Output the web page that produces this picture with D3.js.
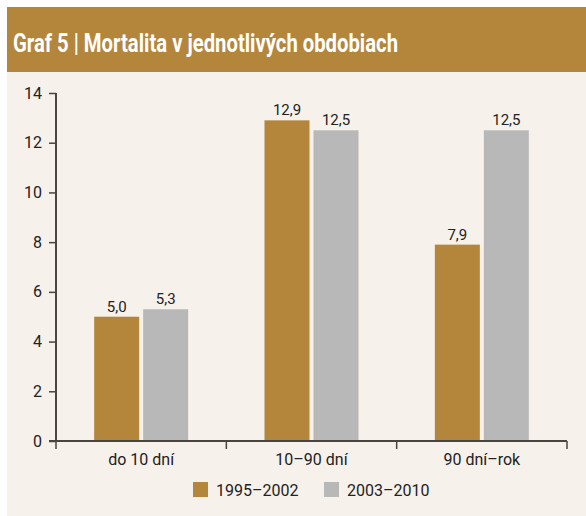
<!DOCTYPE html>
<html><head><meta charset="utf-8">
<script src="https://cdn.jsdelivr.net/npm/d3@7"></script>
<style>html,body{margin:0;padding:0;background:#fff;}svg{display:block;font-family:Roboto,"Noto Sans",sans-serif;}</style>
</head><body>
<script>
const title = "Graf 5 | Mortalita v jednotlivých obdobiach";
const categories = ["do 10 dní", "10–90 dní", "90 dní–rok"];
const seriesNames = ["1995–2002", "2003–2010"];
const series1 = [5.0, 12.9, 7.9];
const series2 = [5.3, 12.5, 12.5];
const yTicks = [0, 2, 4, 6, 8, 10, 12, 14];
const colors = ["#b3863c", "#b8b8b8"];

const W = 586, H = 516;
const svg = d3.select("body").append("svg").attr("width", W).attr("height", H);
svg.append("rect").attr("x", 7).attr("y", 72).attr("width", W - 7).attr("height", H - 72).attr("fill", "#f7f1eb");
svg.append("rect").attr("x", 7).attr("y", 7).attr("width", W - 7).attr("height", 65).attr("fill", "#b3863c");
svg.append("text").attr("x", 13).attr("y", 52).attr("fill", "#fff").attr("font-size", 25).attr("font-weight", 700)
  .attr("textLength", 385).attr("lengthAdjust", "spacingAndGlyphs").text(title);

const x0 = d3.scaleBand().domain(categories).range([56, 567]).paddingInner(0).paddingOuter(0);
const y = d3.scaleLinear().domain([0, 14]).range([441, 93]);
const barW = 45, gap = 4;
const x1 = d3.scaleOrdinal().domain([0, 1]).range([-(barW + gap / 2), gap / 2]);

const data = categories.map((c, i) => ({c, vals: [series1[i], series2[i]]}));
const g = svg.append("g");
data.forEach(d => {
  d.vals.forEach((v, k) => {
    const cx = x0(d.c) + x0.bandwidth() / 2 + x1(k);
    g.append("rect").attr("x", cx).attr("y", y(v)).attr("width", barW).attr("height", y(0) - y(v)).attr("fill", colors[k]);
    g.append("text").attr("x", cx + barW / 2).attr("y", y(v) - 5).attr("text-anchor", "middle")
      .attr("font-size", 15).attr("fill", "#222").text(d3.format(".1f")(v).replace(".", ","));
  });
});

// y axis
const ya = svg.append("g").attr("transform", "translate(56,0)")
  .call(d3.axisLeft(y).tickValues(yTicks).tickSize(7).tickPadding(7).tickFormat(d => d));
ya.select(".domain").attr("stroke", "#4a4540").attr("stroke-width", 2).attr("d", "M0,93V441");
ya.selectAll(".tick line").attr("stroke", "#4a4540").attr("stroke-width", 1.5);
ya.selectAll(".tick text").attr("font-size", 16).attr("fill", "#222").attr("font-family", "Roboto");

// x axis
const xa = svg.append("g").attr("transform", "translate(0,441)");
xa.append("line").attr("x1", 49).attr("x2", 567).attr("y1", 0).attr("y2", 0).attr("stroke", "#4a4540").attr("stroke-width", 2);
const bounds = [56, ...categories.map(c => x0(c) + x0.bandwidth())];
bounds.forEach(b => xa.append("line").attr("x1", b).attr("x2", b).attr("y1", 0).attr("y2", 8).attr("stroke", "#4a4540").attr("stroke-width", 1.5));
categories.forEach(c => xa.append("text").attr("x", x0(c) + x0.bandwidth() / 2).attr("y", 24).attr("text-anchor", "middle")
  .attr("font-size", 16).attr("fill", "#222").text(c));

// legend
const leg = svg.append("g");
const legX = [193, 324];
seriesNames.forEach((n, k) => {
  leg.append("rect").attr("x", legX[k]).attr("y", 482).attr("width", 15).attr("height", 15).attr("fill", colors[k]);
  leg.append("text").attr("x", legX[k] + 23).attr("y", 495.5).attr("font-size", 16).attr("fill", "#222").text(n);
});
</script>
</body></html>
